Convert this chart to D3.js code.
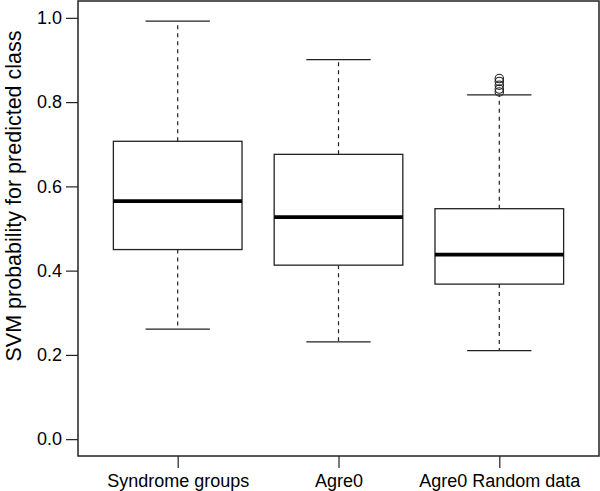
<!DOCTYPE html>
<html>
<head>
<meta charset="utf-8">
<script src="https://cdn.jsdelivr.net/npm/d3@7"></script>
<style>
  body { margin: 0; background: #fff; }
  text { font-family: "Liberation Sans", Arial, sans-serif; fill: #000; }
</style>
</head>
<body>
<svg id="chart" width="600" height="491"></svg>
<script>
// box stats
const groups = ["Syndrome groups", "Agre0", "Agre0 Random data"];
const lowerWhisker = [0.261, 0.231, 0.210];
const q1 = [0.450, 0.413, 0.368];
const median = [0.565, 0.527, 0.438];
const q3 = [0.707, 0.676, 0.547];
const upperWhisker = [0.992, 0.901, 0.817];
const outliers = [[], [], [0.856, 0.849, 0.840, 0.831, 0.824]];
const yTicks = [0.0, 0.2, 0.4, 0.6, 0.8, 1.0];

const svg = d3.select("#chart");

const frame = { left: 78, right: 599, top: 1, bottom: 456 };

// R style: x from 0.38 to 3.62, y from -0.04 to 1.04
const x = d3.scaleLinear().domain([0.38, 3.62]).range([frame.left, frame.right]);
const y = d3.scaleLinear().domain([-0.04, 1.04]).range([frame.bottom, frame.top]);

const boxHalf = x(1.4) - x(1);
const capHalf = boxHalf / 2;

const stroke = "#222";

const data = groups.map((g, i) => ({
    name: g, pos: i + 1,
    lo: lowerWhisker[i], q1: q1[i], med: median[i], q3: q3[i], hi: upperWhisker[i],
    out: outliers[i]
}));

const box = svg.selectAll("g.box")
    .data(data)
    .enter()
    .append("g")
    .attr("class", "box");

// whiskers
box.append("line")
    .attr("x1", d => x(d.pos)).attr("x2", d => x(d.pos))
    .attr("y1", d => y(d.q3)).attr("y2", d => y(d.hi))
    .attr("stroke", stroke).attr("stroke-width", 1.2)
    .attr("stroke-dasharray", "4,4");
box.append("line")
    .attr("x1", d => x(d.pos)).attr("x2", d => x(d.pos))
    .attr("y1", d => y(d.q1)).attr("y2", d => y(d.lo))
    .attr("stroke", stroke).attr("stroke-width", 1.2)
    .attr("stroke-dasharray", "4,4");

// caps
box.append("line")
    .attr("x1", d => x(d.pos) - capHalf).attr("x2", d => x(d.pos) + capHalf)
    .attr("y1", d => y(d.hi)).attr("y2", d => y(d.hi))
    .attr("stroke", stroke).attr("stroke-width", 1.3);
box.append("line")
    .attr("x1", d => x(d.pos) - capHalf).attr("x2", d => x(d.pos) + capHalf)
    .attr("y1", d => y(d.lo)).attr("y2", d => y(d.lo))
    .attr("stroke", stroke).attr("stroke-width", 1.3);

// box
box.append("rect")
    .attr("x", d => x(d.pos) - boxHalf)
    .attr("width", boxHalf * 2)
    .attr("y", d => y(d.q3))
    .attr("height", d => y(d.q1) - y(d.q3))
    .attr("fill", "#fff")
    .attr("stroke", stroke).attr("stroke-width", 1.3);

// median
box.append("line")
    .attr("x1", d => x(d.pos) - boxHalf).attr("x2", d => x(d.pos) + boxHalf)
    .attr("y1", d => y(d.med)).attr("y2", d => y(d.med))
    .attr("stroke", "#000").attr("stroke-width", 3.6);

// outliers
box.selectAll("circle")
    .data(d => d.out.map(v => ({ pos: d.pos, v })))
    .enter()
    .append("circle")
    .attr("cx", d => x(d.pos))
    .attr("cy", d => y(d.v))
    .attr("r", 4.2)
    .attr("fill", "none")
    .attr("stroke", stroke).attr("stroke-width", 1.1);

// frame
svg.append("rect")
    .attr("x", frame.left).attr("y", frame.top)
    .attr("width", frame.right - frame.left)
    .attr("height", frame.bottom - frame.top)
    .attr("fill", "none")
    .attr("stroke", stroke).attr("stroke-width", 1.5);

// y axis
const yAxis = d3.axisLeft(y)
    .tickValues(yTicks)
    .tickFormat(d3.format(".1f"))
    .tickSize(12)
    .tickPadding(4)
    .tickSizeOuter(0);
const gy = svg.append("g")
    .attr("transform", `translate(${frame.left},0)`)
    .call(yAxis);
gy.select(".domain").remove();
gy.selectAll("line").attr("stroke", stroke).attr("stroke-width", 1.2);
gy.selectAll("text").style("font-size", "18px")
    .style("font-family", "'Liberation Sans', Arial, sans-serif");

// x axis
const xAxis = d3.axisBottom(x)
    .tickValues([1, 2, 3])
    .tickFormat((d, i) => groups[i])
    .tickSize(12)
    .tickPadding(6)
    .tickSizeOuter(0);
const gx = svg.append("g")
    .attr("transform", `translate(0,${frame.bottom})`)
    .call(xAxis);
gx.select(".domain").remove();
gx.selectAll("line").attr("stroke", stroke).attr("stroke-width", 1.2);
gx.selectAll("text").style("font-size", "18px")
    .style("font-family", "'Liberation Sans', Arial, sans-serif");

// y title
svg.append("text")
    .attr("transform", `translate(13,196) rotate(-90)`)
    .attr("text-anchor", "middle")
    .attr("dy", "0.35em")
    .style("font-size", "21.5px")
    .text("SVM probability for predicted class");
</script>
</body>
</html>
